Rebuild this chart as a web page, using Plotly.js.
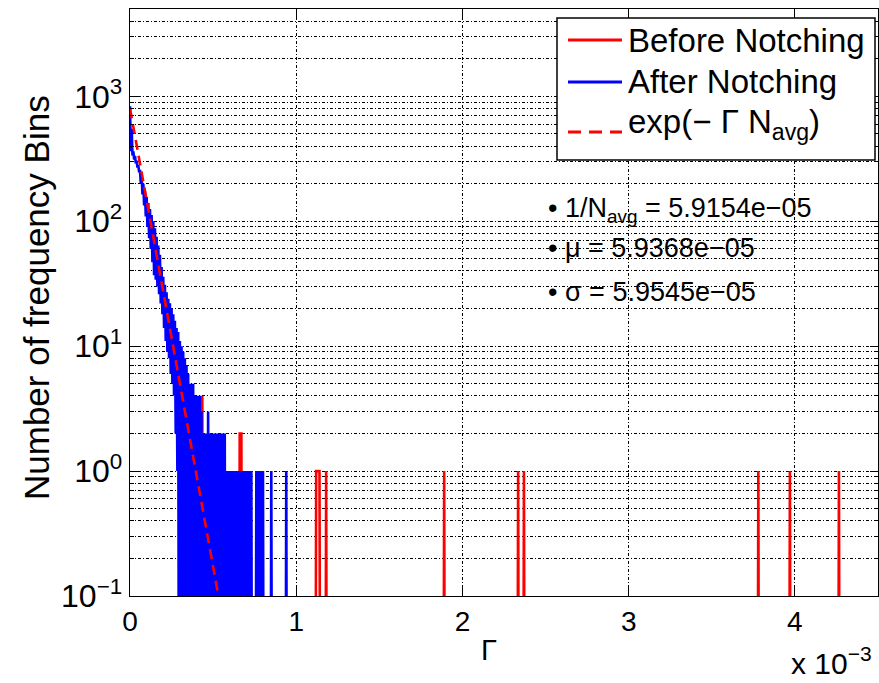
<!DOCTYPE html>
<html>
<head>
<meta charset="utf-8">
<script src="https://cdn.plot.ly/plotly-3.0.1.min.js"></script>
<style>html,body{margin:0;padding:0;background:#fff}#chart{width:879px;height:683px}</style>
</head>
<body>
<div id="chart"></div>
<script>
// Γ values are in units of 1e-3 (axis shows "x 10^-3")
const binWidth = 0.005;
// After notching: counts per bin, bin i centred at i*binWidth
const blueCounts = [
  832, 363, 550, 336, 363, 312, 333, 290, 306, 269,
  281, 246, 258, 200, 228, 164, 199, 134, 174, 109,
  156, 90, 140, 73, 125, 60, 112, 47, 100, 37,
  88, 34, 75, 30, 64, 26, 54, 22, 43, 18,
  36, 14, 31, 11, 27, 9, 24, 8, 22, 6,
  20, 5, 18, 4, 16, 2, 14, 1, 13, 0,
  11, 0, 10, 0, 9, 0, 8, 0, 7, 0,
  6, 0, 5, 0, 5, 0, 5, 0, 4, 0,
  4, 0, 4, 0, 4, 0, 3, 0, 2, 0,
  2, 0, 2, 0, 3, 0, 2, 0, 2, 0,
  2, 0, 2, 0, 2, 0, 2, 0, 2, 0,
  2, 0, 2, 0, 2, 0, 1, 0, 1, 0,
  1, 0, 1, 0, 1, 0, 1, 0, 1, 0,
  1, 0, 1, 0, 1, 0, 1, 0, 1, 0,
  1, 0, 1, 0, 1, 0, 1, 0, 0, 0,
  0, 0, 1, 0, 1, 0, 1, 0, 1, 0,
  1, 0, 0, 0, 0, 0, 0, 0, 0, 0,
  1, 0, 0, 0, 0, 0, 0, 0, 0, 0,
  0, 0, 0, 0, 0, 0, 0, 0, 1, 0,
  0
];
// Before notching: non-zero bins visible outside the after-notching curve
const redGamma  = [0.435, 0.66, 0.665, 0.67, 1.12, 1.125, 1.13, 1.135, 1.14, 1.18, 1.89, 2.335, 2.37, 3.78, 3.97, 4.265];
const redCounts = [4, 2, 2, 2, 1, 1, 1, 1, 1, 1, 1, 1, 1, 1, 1, 1];
// exp(-Γ N_avg) reference curve
const fitGamma  = [0, 0.532];
const fitCounts = [800, 0.1];

const xTickVals = [0, 1, 2, 3, 4];
const xTickText = ['0', '1', '2', '3', '4'];
const yTickVals = [0.1, 1, 10, 100, 1000];
const yTickText = ['10<sup>\u22121</sup>', '10<sup>0</sup>', '10<sup>1</sup>', '10<sup>2</sup>', '10<sup>3</sup>'];

const statLabels = ['\u2022 1/N<sub>avg</sub> = 5.9154e\u221205', '\u2022 \u03bc = 5.9368e\u221205', '\u2022 \u03c3 = 5.9545e\u221205'];
const statGamma  = [2.5, 2.5, 2.5];
const statCounts = [124, 61, 27];

const seriesNames = ['Before Notching', 'After Notching', 'exp(\u2212 \u0393 N<sub>avg</sub>)'];

// ---------- drawing ----------
const FLOOR = 1e-3; // zero counts drawn below the axis bottom, like log(0)
const FONT = 'Liberation Sans, Arial, Helvetica, sans-serif';
const RED = 'rgb(255,0,0)', BLUE = 'rgb(0,0,255)';

const blueX = blueCounts.map((c, i) => +(i * binWidth).toFixed(4));
const blueY = blueCounts.map(c => c > 0 ? c : FLOOR);

const redX = [], redY = [];
redGamma.forEach((g, k) => {
  const prev = k > 0 ? redGamma[k - 1] : -1;
  const next = k < redGamma.length - 1 ? redGamma[k + 1] : 99;
  if (g - prev > binWidth * 1.01) { redX.push(g - binWidth); redY.push(FLOOR); }
  redX.push(g); redY.push(redCounts[k]);
  if (next - g > binWidth * 1.01) { redX.push(g + binWidth); redY.push(FLOOR); }
});

const LW = 2.6;
const traces = [
  {x: redX, y: redY, type: 'scatter', mode: 'lines', name: seriesNames[0], showlegend: false,
   line: {color: RED, width: LW, simplify: false}},
  {x: blueX, y: blueY, type: 'scatter', mode: 'lines', name: seriesNames[1], showlegend: false,
   line: {color: BLUE, width: LW, simplify: false}},
  {x: fitGamma, y: fitCounts, type: 'scatter', mode: 'lines', name: seriesNames[2], showlegend: false,
   line: {color: RED, width: LW, dash: '10px,6px'}}
];

const PL = 130, PR = 878, PT = 9, PB = 596;
const px = v => (v - PL) / (PR - PL);
const py = v => 1 - (v - PT) / (PB - PT);

const minorVals = [];
for (let e = -1; e <= 3; e++) for (let d = 2; d <= 9; d++) minorVals.push(d * Math.pow(10, e));

const GRIDDASH = '3px,2px,1px,2px';

const annotations = statLabels.map((t, k) => ({
  x: statGamma[k], y: Math.log10(statCounts[k]), xref: 'x', yref: 'y',
  text: t, showarrow: false, xanchor: 'left', yanchor: 'middle',
  font: {family: FONT, size: 27, color: '#000'}
}));
annotations.push({
  x: px(36), y: py(298), xref: 'paper', yref: 'paper', text: 'Number of frequency Bins',
  textangle: -90, showarrow: false, xanchor: 'center', yanchor: 'middle',
  font: {family: FONT, size: 35, color: '#000'}
});
annotations.push({
  x: px(489), y: py(650), xref: 'paper', yref: 'paper', text: '\u0393',
  showarrow: false, xanchor: 'center', yanchor: 'middle',
  font: {family: FONT, size: 29, color: '#000'}
});
annotations.push({
  x: px(831), y: py(661), xref: 'paper', yref: 'paper', text: 'x 10<sup>\u22123</sup>',
  showarrow: false, xanchor: 'center', yanchor: 'middle',
  font: {family: FONT, size: 30, color: '#000'}
});

// legend drawn as a boxed key (Matlab style, long line samples)
const legendRows = [
  {name: seriesNames[0], color: RED, dash: 'solid', lineY: 40, textY: 40},
  {name: seriesNames[1], color: BLUE, dash: 'solid', lineY: 82, textY: 82},
  {name: seriesNames[2], color: RED, dash: '13px,8px', lineY: 132, textY: 124}
];
const shapes = [{
  type: 'rect', xref: 'paper', yref: 'paper', layer: 'above',
  x0: px(557), x1: px(875), y0: py(160), y1: py(18),
  line: {color: '#000', width: 1.5}, fillcolor: '#fff'
}];
legendRows.forEach(r => {
  shapes.push({type: 'line', xref: 'paper', yref: 'paper', layer: 'above',
    x0: px(568), x1: px(622), y0: py(r.lineY), y1: py(r.lineY),
    line: {color: r.color, width: 3, dash: r.dash}});
  annotations.push({x: px(626), y: py(r.textY), xref: 'paper', yref: 'paper', text: r.name,
    showarrow: false, xanchor: 'left', yanchor: 'middle',
    font: {family: FONT, size: 33, color: '#000'}});
});

const layout = {
  width: 879, height: 683,
  margin: {l: PL, r: 879 - PR, t: PT, b: 683 - PB, pad: 0},
  paper_bgcolor: '#fff', plot_bgcolor: '#fff',
  font: {family: FONT, size: 28, color: '#000'},
  showlegend: false,
  xaxis: {range: [0, 4.5], tickmode: 'array', tickvals: xTickVals, ticktext: xTickText,
    ticks: 'inside', ticklen: 8, tickwidth: 1, tickcolor: '#000',
    showline: true, linecolor: '#000', linewidth: 1.4, mirror: 'ticks',
    showgrid: true, gridcolor: '#000', gridwidth: 1, griddash: GRIDDASH,
    zeroline: false, tickfont: {family: FONT, size: 28, color: '#000'}},
  yaxis: {type: 'log', range: [-1, Math.log10(5000)], tickmode: 'array',
    tickvals: yTickVals, ticktext: yTickText,
    ticks: 'inside', ticklen: 8, tickwidth: 1, tickcolor: '#000',
    showline: true, linecolor: '#000', linewidth: 1.4, mirror: 'ticks',
    showgrid: true, gridcolor: '#000', gridwidth: 1, griddash: GRIDDASH,
    zeroline: false, tickfont: {family: FONT, size: 32, color: '#000'},
    minor: {tickmode: 'array', tickvals: minorVals, ticks: 'inside', ticklen: 4,
      tickcolor: '#000', showgrid: true, gridcolor: '#000', gridwidth: 1, griddash: GRIDDASH}},
  shapes: shapes,
  annotations: annotations
};

Plotly.newPlot('chart', traces, layout, {displayModeBar: false, staticPlot: true});
</script>
</body>
</html>
